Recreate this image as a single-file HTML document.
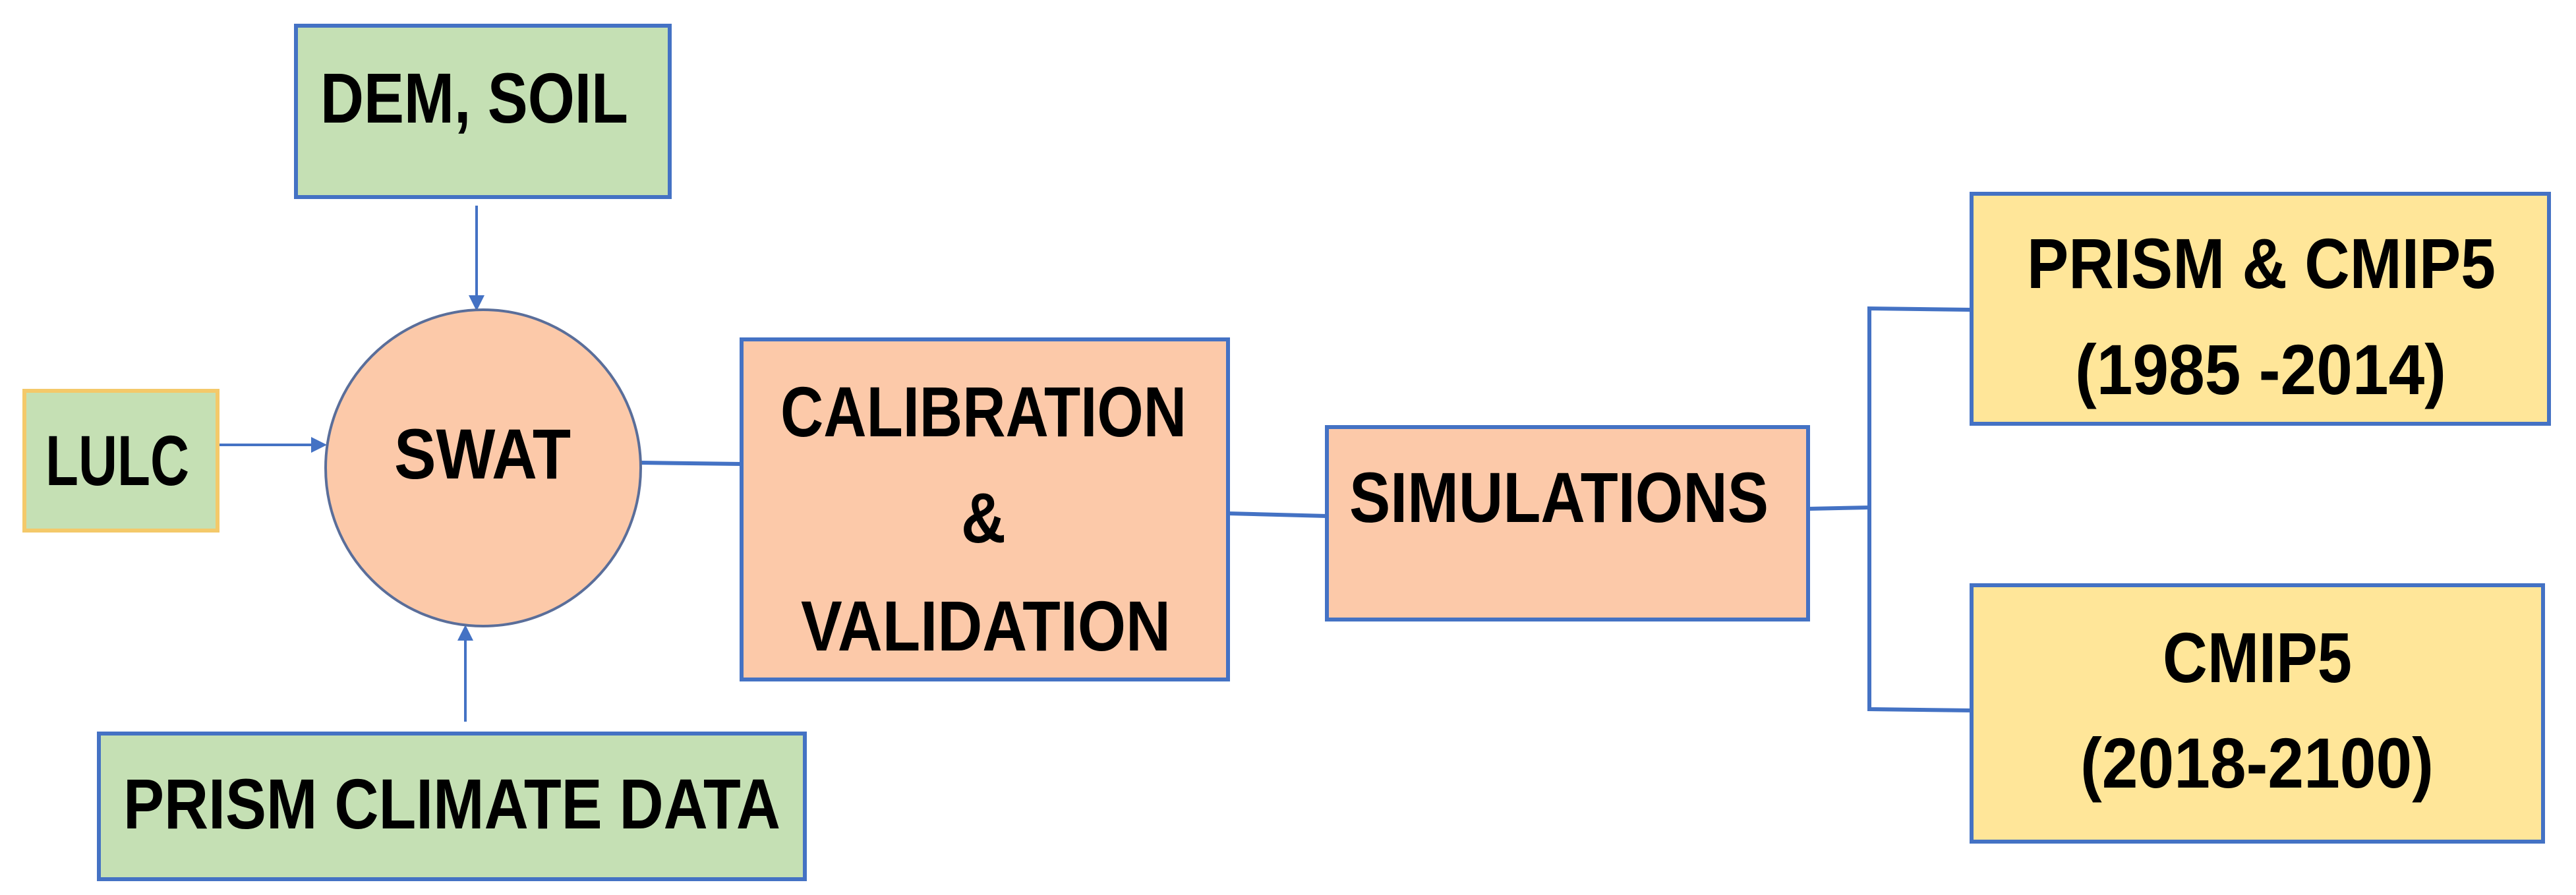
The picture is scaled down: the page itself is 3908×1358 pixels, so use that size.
<!DOCTYPE html>
<html><head><meta charset="utf-8"><style>
html,body{margin:0;padding:0;background:#fff;}
svg{display:block;}
text{font-family:"Liberation Sans Narrow","Liberation Sans",sans-serif;font-weight:bold;fill:#000;}
</style></head><body>
<svg width="3908" height="1358" viewBox="0 0 3908 1358" xmlns="http://www.w3.org/2000/svg">
<defs>
<marker id="ah" markerWidth="6" markerHeight="6" refX="5" refY="3" orient="auto" markerUnits="strokeWidth">
<path d="M0,0 L6,3 L0,6 z" fill="#4472c4"/></marker>
</defs>
<g stroke="#4472c4" stroke-width="4" fill="none">
<line x1="723" y1="312" x2="723" y2="468" marker-end="url(#ah)"/>
<line x1="330" y1="675" x2="492" y2="675" marker-end="url(#ah)"/>
<line x1="706" y1="1095" x2="706" y2="952" marker-end="url(#ah)"/>
<line x1="972" y1="702" x2="1125" y2="704" stroke-width="6"/>
<line x1="1863" y1="779" x2="2013" y2="783" stroke-width="6"/>
<line x1="2743" y1="772" x2="2836" y2="770" stroke-width="6"/>
<polyline points="2991,470 2836,468 2836,1076 2991,1078" stroke-width="6"/>
</g>
<g stroke="#4472c4" stroke-width="6">
<rect x="449" y="39" width="567" height="260" fill="#c5e0b4"/>
<rect x="37" y="593" width="293" height="212" fill="#c5e0b4" stroke="#f4c96a"/>
<rect x="150" y="1113" width="1071" height="221" fill="#c5e0b4"/>
<rect x="1125" y="515" width="738" height="516" fill="#fcc9a9"/>
<rect x="2013" y="648" width="730" height="292" fill="#fcc9a9"/>
<rect x="2991" y="294" width="876" height="349" fill="#ffe699"/>
<rect x="2991" y="888" width="867" height="389" fill="#ffe699"/>
</g>
<ellipse cx="733" cy="710" rx="239" ry="240" fill="#fcc9a9" stroke="#5a6e9a" stroke-width="4"/>
<g font-size="108">
<text x="486" y="186" textLength="467" lengthAdjust="spacingAndGlyphs">DEM, SOIL</text>
<text x="69" y="736" textLength="218" lengthAdjust="spacingAndGlyphs">LULC</text>
<text x="598" y="726" textLength="268" lengthAdjust="spacingAndGlyphs">SWAT</text>
<text x="1184" y="662" textLength="616" lengthAdjust="spacingAndGlyphs">CALIBRATION</text>
<text x="1458" y="823" textLength="68" lengthAdjust="spacingAndGlyphs">&amp;</text>
<text x="1215" y="987" textLength="561" lengthAdjust="spacingAndGlyphs">VALIDATION</text>
<text x="187" y="1257" textLength="997" lengthAdjust="spacingAndGlyphs">PRISM CLIMATE DATA</text>
<text x="2047" y="792" textLength="636" lengthAdjust="spacingAndGlyphs">SIMULATIONS</text>
<text x="3075" y="437" textLength="711" lengthAdjust="spacingAndGlyphs">PRISM &amp; CMIP5</text>
<text x="3148" y="598" textLength="563" lengthAdjust="spacingAndGlyphs">(1985 -2014)</text>
<text x="3281" y="1035" textLength="287" lengthAdjust="spacingAndGlyphs">CMIP5</text>
<text x="3156" y="1195" textLength="536" lengthAdjust="spacingAndGlyphs">(2018-2100)</text>
</g>
</svg>
</body></html>
